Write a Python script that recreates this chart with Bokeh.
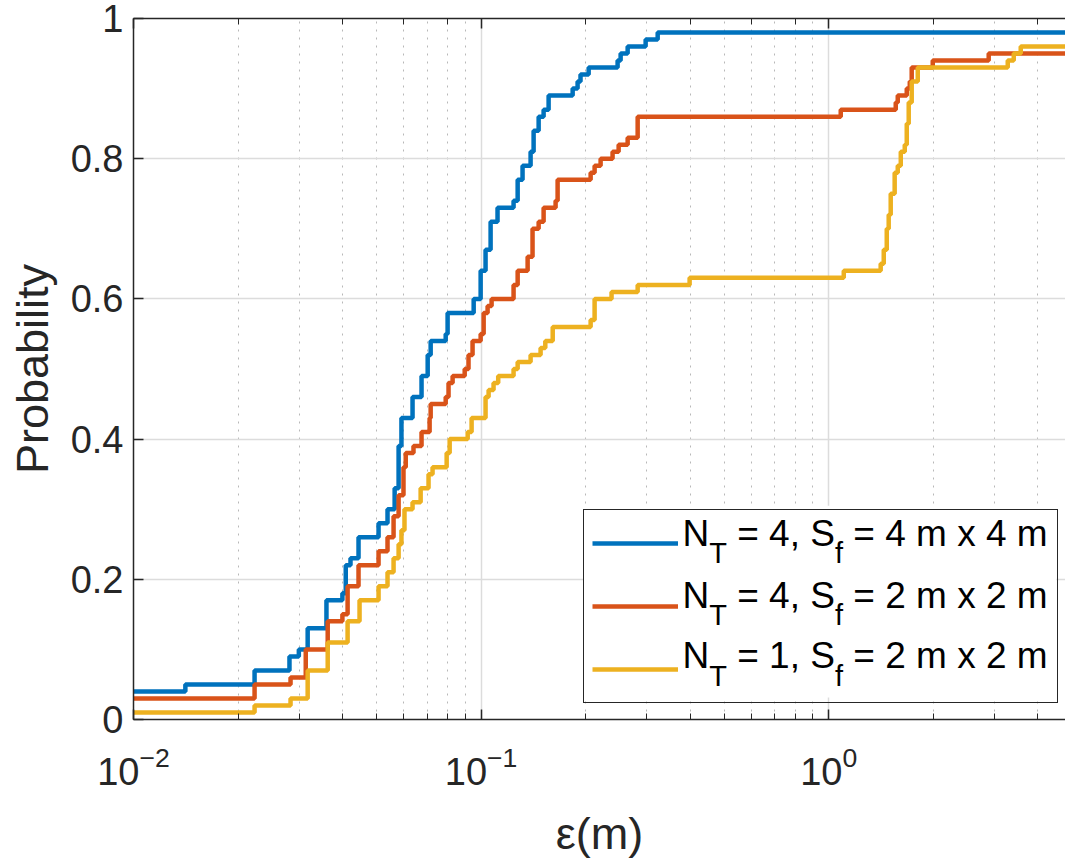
import math
from bokeh.plotting import figure
from bokeh.models import (LogAxis, Legend, LegendItem, CustomJSTickFormatter, LogTicker,
                          ColumnDataSource)
from bokeh.core.properties import value
from bokeh.embed import file_html
from bokeh.resources import INLINE

# ---------------- data ----------------
blue_x = [0.005, 0.0141, 0.0223, 0.0281, 0.0299, 0.0317, 0.0359, 0.0399, 0.0408, 0.0421,
          0.0444, 0.0507, 0.0538, 0.0564, 0.0579, 0.0590, 0.0635, 0.0674, 0.0702, 0.0716,
          0.0791, 0.0801, 0.0952, 0.0997, 0.1030, 0.1065, 0.1115, 0.1240, 0.1274, 0.1316,
          0.1388, 0.1416, 0.1464, 0.1513, 0.1564, 0.1834, 0.1895, 0.1932, 0.2039, 0.2470,
          0.2520, 0.2640, 0.2974, 0.3221, 10.0]
blue_y = [0.04, 0.05, 0.07, 0.09, 0.10, 0.13, 0.17, 0.18, 0.22, 0.23,
          0.26, 0.28, 0.30, 0.33, 0.39, 0.43, 0.46, 0.49, 0.52, 0.54,
          0.55, 0.58, 0.60, 0.64, 0.67, 0.71, 0.73, 0.74, 0.77, 0.79,
          0.81, 0.84, 0.86, 0.87, 0.89, 0.90, 0.91, 0.92, 0.93, 0.94,
          0.95, 0.96, 0.97, 0.98, 0.98]

orange_x = [0.005, 0.0223, 0.0283, 0.0313, 0.0362, 0.0399, 0.0413, 0.0444, 0.0507, 0.0538,
            0.0560, 0.0579, 0.0598, 0.0607, 0.0639, 0.0674, 0.0711, 0.0716, 0.0791, 0.0806,
            0.0828, 0.0897, 0.0920, 0.0945, 0.0997, 0.1017, 0.1044, 0.1072, 0.1240, 0.1274,
            0.1361, 0.1406, 0.1464, 0.1513, 0.1638, 0.1660, 0.2066, 0.2121, 0.2207, 0.2389,
            0.2487, 0.2640, 0.2821, 1.083, 1.559, 1.580, 1.677, 1.711, 1.733, 1.992,
            2.886, 10.0]
orange_y = [0.03, 0.05, 0.06, 0.10, 0.14, 0.15, 0.19, 0.22, 0.24, 0.26,
            0.29, 0.32, 0.36, 0.38, 0.39, 0.41, 0.43, 0.45, 0.46, 0.48,
            0.49, 0.50, 0.52, 0.54, 0.55, 0.58, 0.59, 0.60, 0.62, 0.64,
            0.66, 0.70, 0.71, 0.73, 0.74, 0.77, 0.78, 0.79, 0.80, 0.81,
            0.82, 0.83, 0.86, 0.87, 0.88, 0.89, 0.90, 0.91, 0.93, 0.94,
            0.95, 0.95]

yellow_x = [0.005, 0.0223, 0.0283, 0.0317, 0.0362, 0.0413, 0.0447, 0.0507, 0.0538, 0.0560,
            0.0579, 0.0590, 0.0602, 0.0635, 0.0670, 0.0706, 0.0725, 0.0796, 0.0812, 0.0915,
            0.0939, 0.1030, 0.1051, 0.1086, 0.1120, 0.1240, 0.1274, 0.1388, 0.1483, 0.1530,
            0.1607, 0.2066, 0.2121, 0.2373, 0.2821, 0.398, 1.105, 1.411, 1.440, 1.469,
            1.488, 1.508, 1.548, 1.580, 1.612, 1.655, 1.677, 1.699, 1.733, 1.804,
            3.274, 3.407, 3.568, 10.0]
yellow_y = [0.01, 0.02, 0.03, 0.07, 0.11, 0.14, 0.17, 0.19, 0.21, 0.23,
            0.25, 0.27, 0.30, 0.31, 0.33, 0.35, 0.36, 0.38, 0.40, 0.41,
            0.43, 0.46, 0.47, 0.48, 0.49, 0.50, 0.51, 0.52, 0.53, 0.54,
            0.56, 0.57, 0.60, 0.61, 0.62, 0.63, 0.64, 0.65, 0.67, 0.70,
            0.72, 0.75, 0.78, 0.79, 0.81, 0.82, 0.85, 0.88, 0.91, 0.93,
            0.94, 0.95, 0.96, 0.96]

# legend pieces: (text, is_subscript)
legend_parts = [
    [("N", False), ("T", True), ("= 4, S", False), ("f", True), ("= 4 m x 4 m", False)],
    [("N", False), ("T", True), ("= 4, S", False), ("f", True), ("= 2 m x 2 m", False)],
    [("N", False), ("T", True), ("= 1, S", False), ("f", True), ("= 2 m x 2 m", False)],
]
colors = ["#0072BD", "#D95319", "#EDB120"]

x_lo, x_hi = 0.01, 4.8
FONT = "Liberation Sans"
INK = "#262626"
FRAME_L, FRAME_T, W_PX, H_PX = 133, 18, 1065, 861
FRAME_B = 723
FRAME_W = W_PX - FRAME_L
FRAME_H = FRAME_B - FRAME_T

p = figure(width=W_PX, height=H_PX, x_axis_type="log", x_range=(x_lo, x_hi), y_range=(0, 1),
           output_backend="svg", toolbar_location=None,
           min_border_left=FRAME_L, min_border_right=0, min_border_top=FRAME_T,
           min_border_bottom=H_PX - FRAME_B,
           x_axis_label="ε(m)", y_axis_label="Probability")
p.outline_line_color = None
p.background_fill_color = "white"

# screen (frame-relative, y up) -> data helpers for legend layout
lx0, lx1 = math.log10(x_lo), math.log10(x_hi)
def sx_to_x(sx):
    return 10 ** (lx0 + sx / FRAME_W * (lx1 - lx0))
def sy_to_y(sy):
    return sy / FRAME_H

renderers = []
for xs, ys, c in [(blue_x, blue_y, colors[0]), (orange_x, orange_y, colors[1]), (yellow_x, yellow_y, colors[2])]:
    r = p.step(xs, ys, mode="after", line_color=c, line_width=4.5)
    renderers.append(r)

# grids
p.xgrid.grid_line_color = "#dcdcdc"
p.xgrid.grid_line_width = 1.5
p.xgrid.minor_grid_line_color = "#b8b8b8"
p.xgrid.minor_grid_line_dash = "2 6"
p.xgrid.minor_grid_line_width = 1
p.ygrid.grid_line_color = "#dcdcdc"
p.ygrid.grid_line_width = 1.5
p.ygrid.ticker = [0, 0.2, 0.4, 0.6, 0.8, 1.0]

# axes
for ax in [p.xaxis[0], p.yaxis[0]]:
    ax.axis_line_color = INK
    ax.axis_line_width = 1.5
    ax.major_tick_line_color = INK
    ax.major_tick_line_width = 1.5
    ax.minor_tick_line_color = INK
    ax.major_tick_in = 10
    ax.major_tick_out = 0
    ax.minor_tick_in = 6
    ax.minor_tick_out = 0
    ax.major_label_text_font = FONT
    ax.major_label_text_font_size = "38px"
    ax.major_label_text_color = INK
    ax.axis_label_text_font = FONT
    ax.axis_label_text_font_size = "45px"
    ax.axis_label_text_font_style = "normal"
    ax.axis_label_text_color = INK

p.yaxis.ticker = [0, 0.2, 0.4, 0.6, 0.8, 1.0]
p.yaxis.minor_tick_line_color = None
p.yaxis.formatter = CustomJSTickFormatter(code="""
    if (Math.abs(tick) < 1e-9) return "0";
    if (Math.abs(tick - 1) < 1e-9) return "1";
    return tick.toFixed(1);
""")
p.yaxis.major_label_standoff = 10
p.yaxis.axis_label_standoff = 10
p.xaxis.major_label_standoff = 26
p.xaxis.axis_label_standoff = 20

top = LogAxis(ticker=LogTicker(), formatter=CustomJSTickFormatter(code="return '';"),
              axis_line_color=INK, axis_line_width=1.5,
              major_tick_line_color=INK, major_tick_line_width=1.5, minor_tick_line_color=INK,
              major_tick_in=10, major_tick_out=0, minor_tick_in=6, minor_tick_out=0,
              major_label_standoff=0, major_label_text_font_size="1px")
p.add_layout(top, "above")

# white legend background (covers the grid), drawn as a glyph under the legend texts
BOX_L, BOX_R, BOX_B, BOX_T = 450, 923, 22, 215   # frame-relative screen pixels
p.quad(left=[sx_to_x(BOX_L)], right=[sx_to_x(BOX_R)], bottom=[sy_to_y(BOX_B)], top=[sy_to_y(BOX_T)],
       fill_color="white", line_color=None)

# legend texts with subscripts
MAIN, SUB = 37, 29
WID = {"N": 0.722, "T": 0.611, " ": 0.278, "=": 0.584, ",": 0.278, "S": 0.667, "f": 0.278,
       "m": 0.833, "x": 0.5, "1": 0.556, "2": 0.556, "4": 0.556}
def width(s, size):
    return sum(WID[c] for c in s) * size

tx, ty, tt, ts = [], [], [], []
row_base = [174, 112, 51]   # baselines of main text
for parts, yb in zip(legend_parts, row_base):
    sx = 549.0
    for txt, sub in parts:
        size = SUB if sub else MAIN
        base = yb - 17 if sub else yb
        tx.append(sx_to_x(sx))
        ty.append(sy_to_y(base + 0.35 * size))
        tt.append(txt)
        ts.append(f"{size}px")
        sx += width(txt, size)
        if sub:
            sx += WID[" "] * MAIN

src = ColumnDataSource(dict(x=tx, y=ty, text=tt, size=ts))
p.text(x="x", y="y", text="text", source=src, text_font=value(FONT), text_font_size="size",
       text_color="black", text_baseline="middle", text_align="left")

# legend frame and line samples (transparent background so the texts stay visible)
items = [LegendItem(label=" ", renderers=[r]) for r in renderers]
legend = Legend(items=items, location=(BOX_L, 16), padding=8, margin=0,
                glyph_width=86, glyph_height=50, spacing=13, label_standoff=7,
                label_width=364, label_text_font_size="1px",
                border_line_color=INK, border_line_width=1.5, border_line_alpha=1,
                background_fill_alpha=0)
p.add_layout(legend)

open("out.html", "w").write(file_html(p, INLINE))
